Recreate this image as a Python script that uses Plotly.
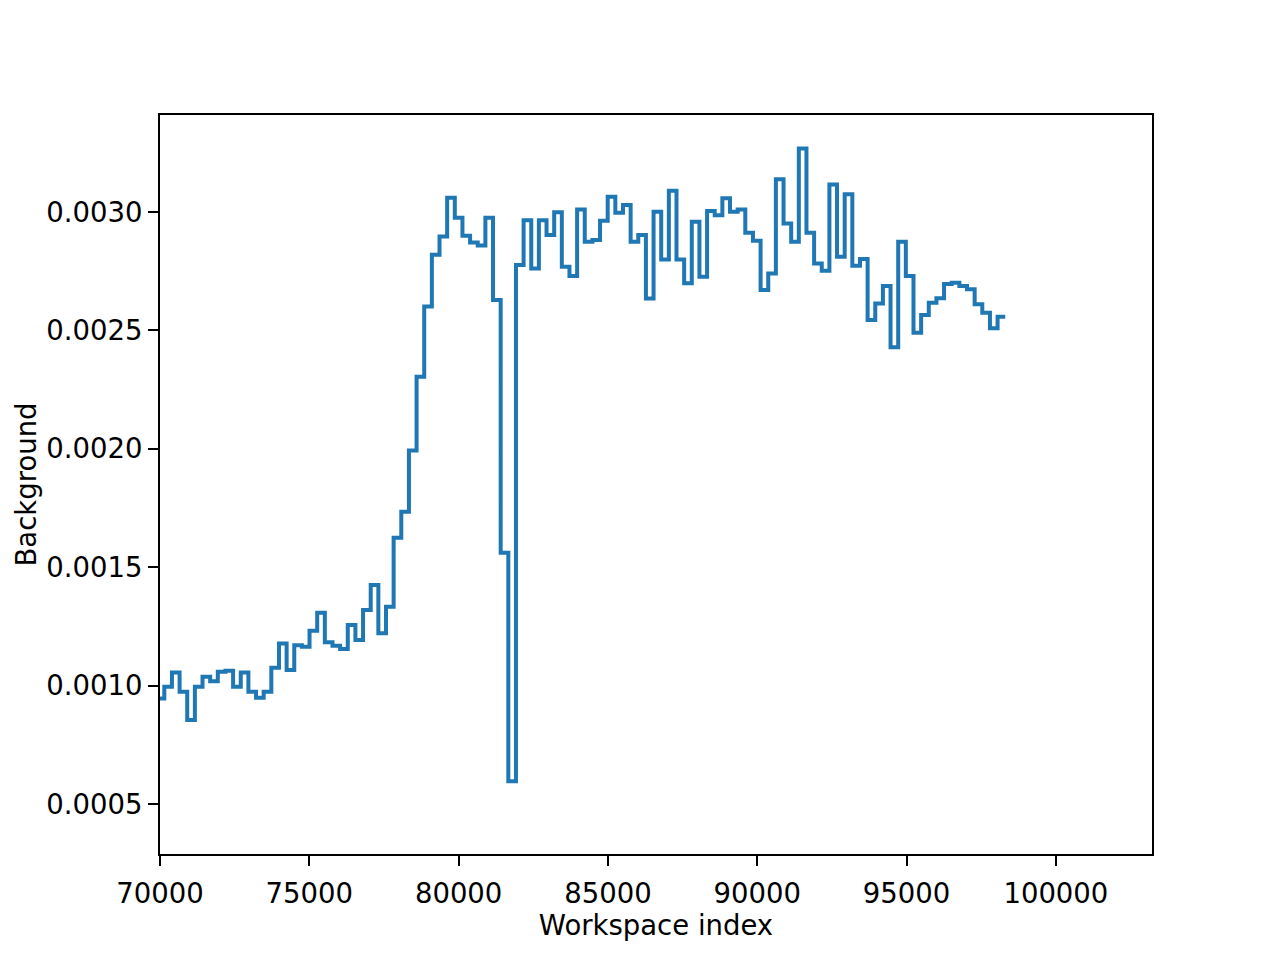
import numpy as np
import plotly.graph_objects as go

# Step bins: workspace index bins of width 256; first visible bin index 273
bin_width = 256
first_bin = 273

# Background values (x 1e-4) per bin
background_e4 = [
    9.46, 9.95, 10.56, 9.74, 8.55, 9.95, 10.38, 10.19, 10.59, 10.63,
    9.95, 10.56, 9.74, 9.49, 9.74, 10.76, 11.78, 10.66, 11.71, 11.64,
    12.32, 13.08, 11.83, 11.69, 11.55, 12.56, 11.93, 13.19, 14.25, 12.21,
    13.33, 16.25, 17.34, 19.93, 23.05, 26.01, 28.20, 28.97, 30.61, 29.76,
    29.00, 28.72, 28.59, 29.76, 26.29, 15.61, 5.96, 27.77, 29.66, 27.62,
    29.66, 29.03, 29.99, 27.69, 27.30, 30.11, 28.75, 28.82, 29.63, 30.65,
    29.97, 30.30, 28.75, 29.03, 26.35, 30.01, 28.00, 30.90, 28.00, 26.99,
    29.59, 27.27, 30.05, 29.87, 30.58, 30.01, 30.11, 29.13, 28.79, 26.71,
    27.41, 31.39, 29.52, 28.75, 32.69, 29.13, 27.83, 27.52, 31.17, 28.11,
    30.75, 27.73, 28.02, 25.44, 26.14, 26.88, 24.29, 28.75, 27.30, 24.90,
    25.65, 26.17, 26.36, 26.96, 27.02, 26.88, 26.74, 26.11, 25.75, 25.09,
    25.58,
]

x_ticks = [70000, 75000, 80000, 85000, 90000, 95000, 100000]
y_ticks = [0.0005, 0.0010, 0.0015, 0.0020, 0.0025, 0.0030]

values = np.array(background_e4) * 1e-4
n = len(values)
edges = (first_bin + np.arange(n + 1)) * bin_width
xs = edges
ys = np.append(values, values[-1])

fig = go.Figure()
fig.add_trace(go.Scatter(
    x=xs, y=ys, mode="lines", line_shape="hv",
    line=dict(color="#1f77b4", width=4),
    showlegend=False, hoverinfo="skip",
))

font_family = "DejaVu Sans"
fs = 27.5
axis_common = dict(
    showgrid=False, zeroline=False, automargin=False,
    showline=True, linecolor="black", linewidth=2, mirror=True,
    ticks="outside", ticklen=10, tickwidth=2, tickcolor="black",
    tickfont=dict(family=font_family, size=fs, color="black"),
)

fig.update_layout(
    width=1280, height=960,
    paper_bgcolor="white", plot_bgcolor="white",
    margin=dict(l=152, r=136, t=107, b=114, pad=0),
    font=dict(family=font_family, color="black"),
    xaxis=dict(
        range=[70000, 103219], tickvals=x_ticks,
        ticktext=[str(v) for v in x_ticks],
        ticklabelstandoff=4,
        title=dict(text="Workspace index", font=dict(family=font_family, size=fs, color="black"), standoff=8),
        **axis_common,
    ),
    yaxis=dict(
        range=[0.000289, 0.003410], tickvals=y_ticks,
        ticktext=[f"{v:.4f}" for v in y_ticks],
        ticklabelstandoff=0,
        **axis_common,
    ),
)

fig.add_annotation(
    text="Background", textangle=-90, showarrow=False,
    xref="paper", yref="paper", x=0, y=0.5,
    xanchor="center", yanchor="middle", xshift=-135,
    font=dict(family=font_family, size=fs, color="black"),
)

fig.write_html("out.html")
